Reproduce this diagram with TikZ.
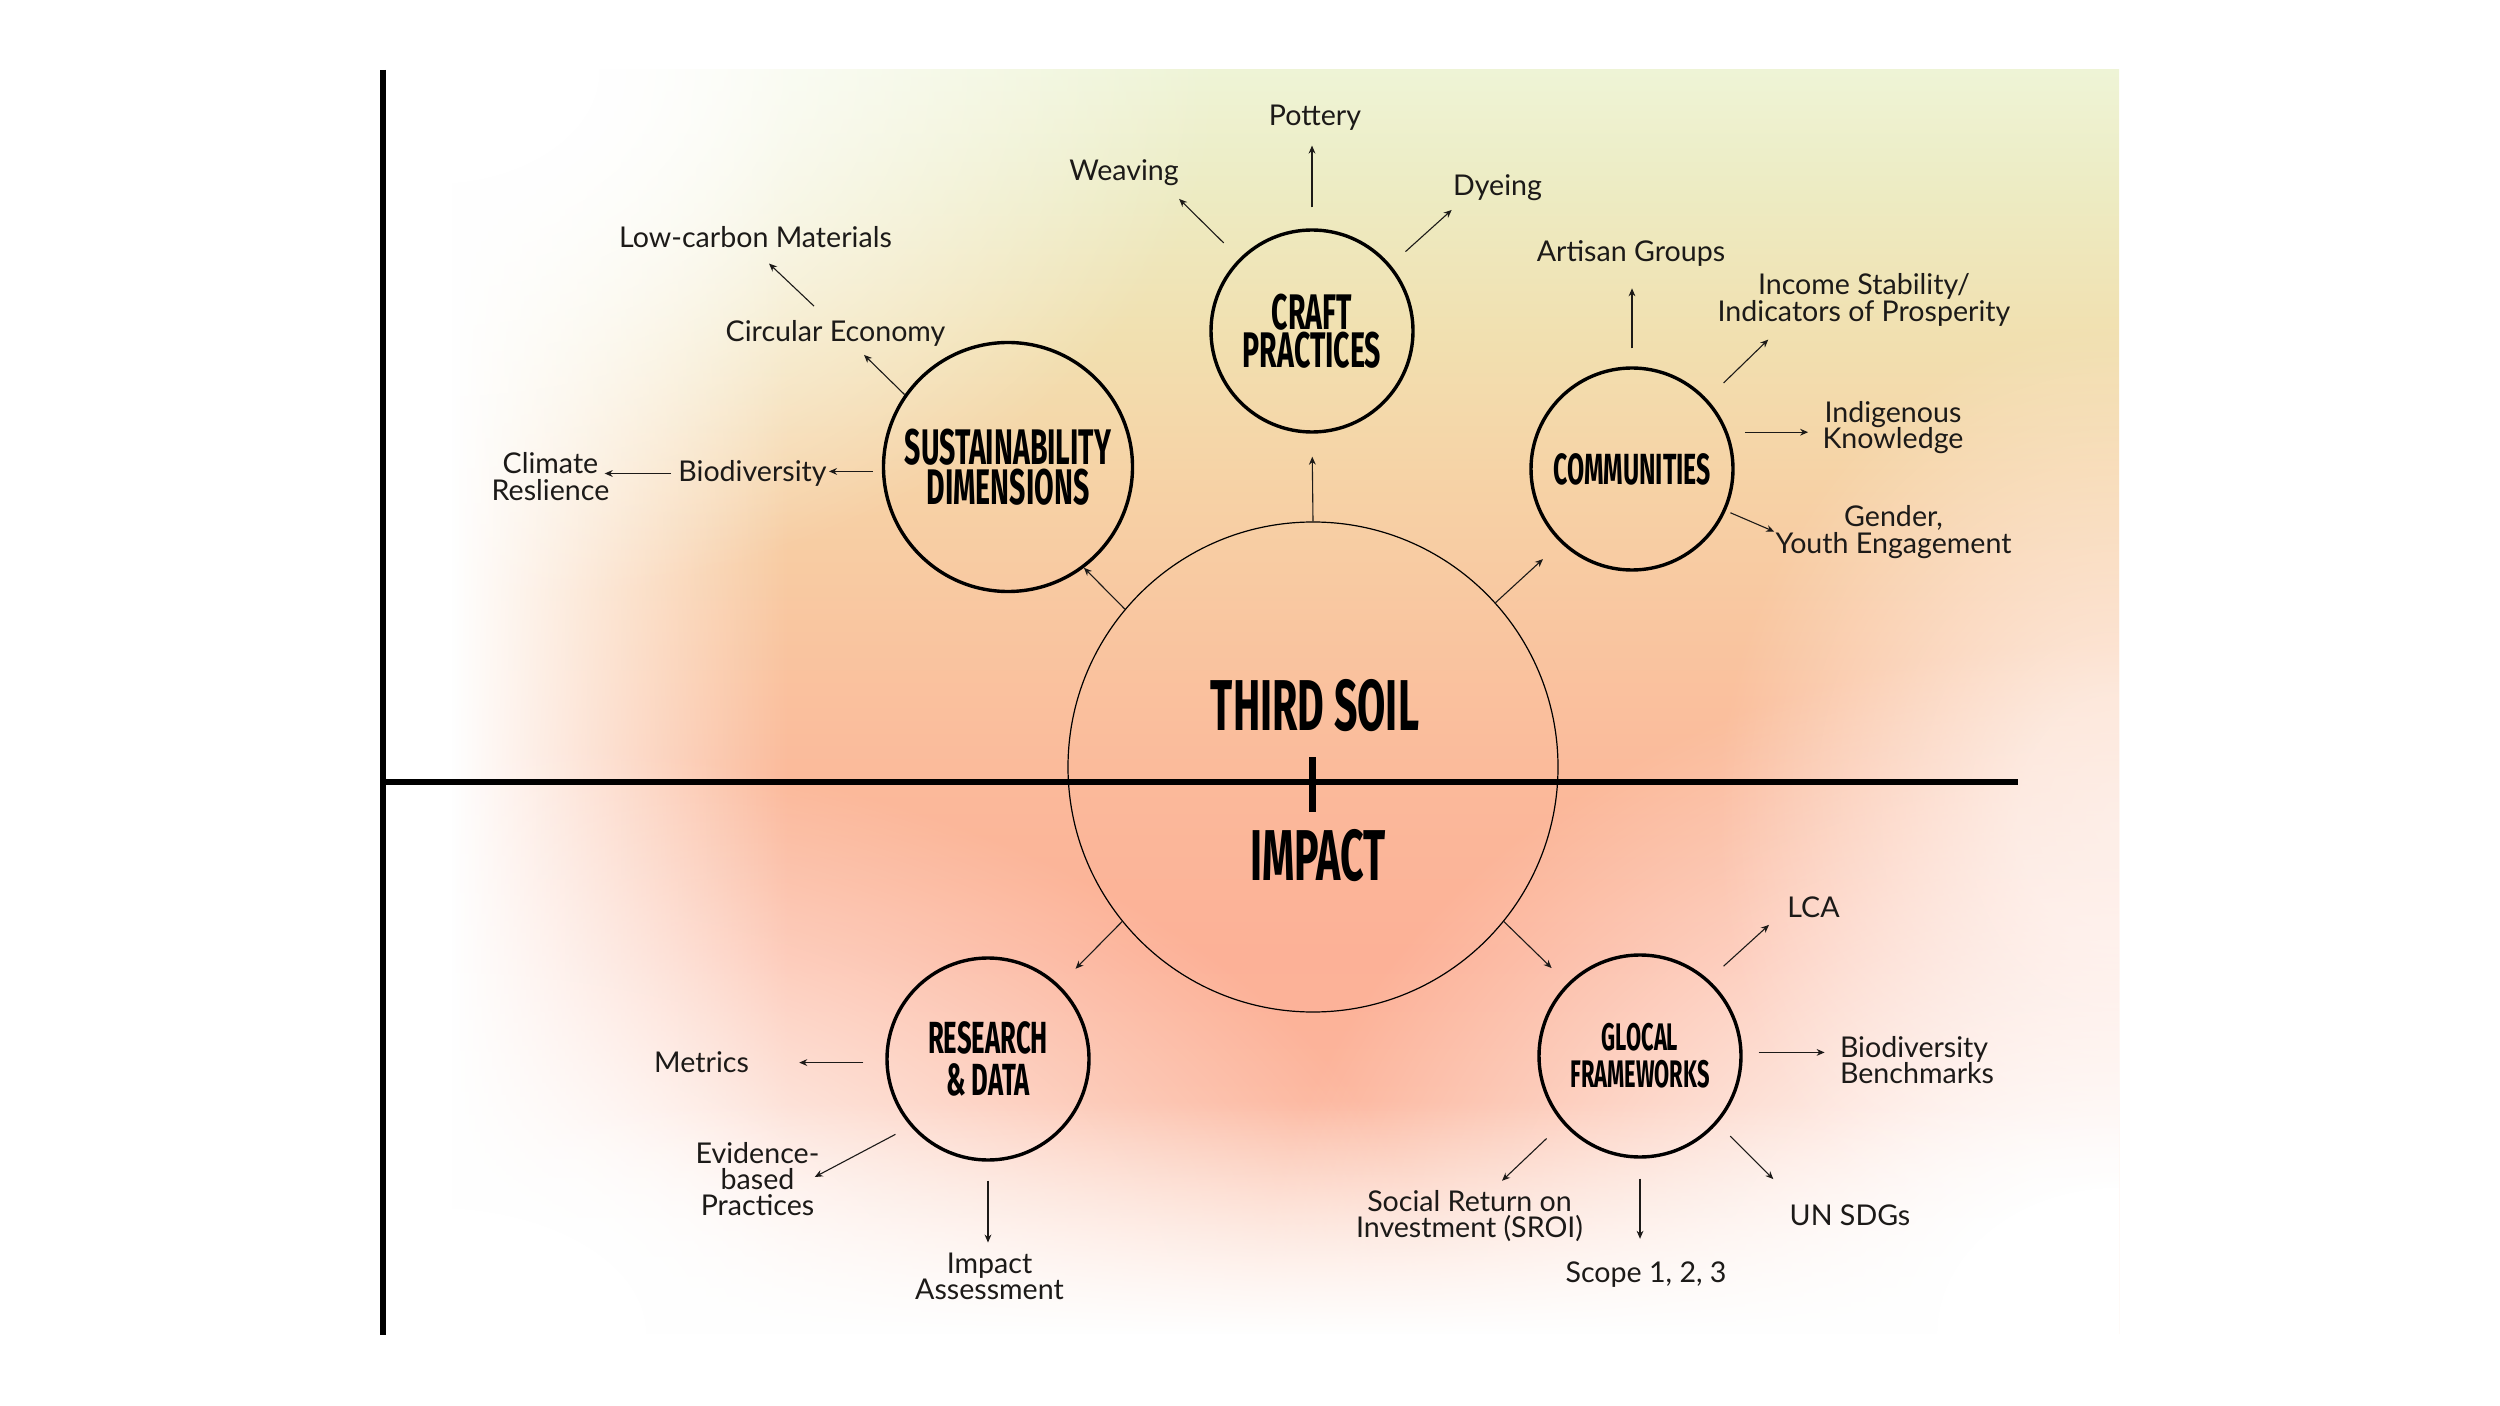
\documentclass[tikz,border=0pt]{standalone}
\usepackage{fontspec}
\setmainfont{Lato}
\newfontfamily\titlefont[FakeStretch=0.57]{Fira Sans}
\usetikzlibrary{calc,arrows.meta,fadings}

\definecolor{bg0}{HTML}{FCCDB8}
\definecolor{bg1}{HTML}{FCB59C}
\definecolor{bg2}{HTML}{FCB197}
\definecolor{bg3}{HTML}{FBB89A}
\definecolor{bg4}{HTML}{F9C6A0}
\definecolor{bg5}{HTML}{F6D3A6}
\definecolor{bg6}{HTML}{F1E0B0}
\definecolor{bg7}{HTML}{EDEBC2}
\definecolor{bg8}{HTML}{EEF4D6}
\definecolor{ink}{HTML}{1C1A18}

% shadings: only the 25bp..75bp band is mapped onto a path
\pgfdeclareverticalshading{bgshade}{100bp}{color(0bp)=(bg0); color(25bp)=(bg0); color(34bp)=(bg1); color(40bp)=(bg2); color(46bp)=(bg3); color(53bp)=(bg4); color(59bp)=(bg5); color(64.5bp)=(bg6); color(70bp)=(bg7); color(75bp)=(bg8); color(100bp)=(bg8)}
\pgfdeclareradialshading{blobsh}{\pgfpointorigin}{color(0bp)=(white); color(5bp)=(white); color(24bp)=(black); color(50bp)=(black)}
\pgfdeclareradialshading{softsh}{\pgfpointorigin}{color(0bp)=(black!35); color(6bp)=(black!40); color(24bp)=(black); color(50bp)=(black)}
\pgfdeclarehorizontalshading{leftsh}{100bp}{color(0bp)=(white); color(27bp)=(white); color(52bp)=(black); color(100bp)=(black)}
\pgfdeclareverticalshading{botsh}{100bp}{color(0bp)=(white); color(27bp)=(white); color(75bp)=(black); color(100bp)=(black)}
\tikzfading[name=blob, shading=blobsh]
\tikzfading[name=softblob, shading=softsh]
\tikzfading[name=leftfade, shading=leftsh]
\tikzfading[name=botfade, shading=botsh]

\begin{document}
\begin{tikzpicture}[x=0.5pt,y=-0.5pt,
  hub/.style={circle,draw=black,line width=1.7pt,inner sep=0pt,align=center,text=black},
  lbl/.style={inner sep=0pt,align=center,text=ink,font=\fontsize{14.3pt}{13.2pt}\selectfont},
  arr/.style={-{Stealth[length=4pt,width=3.4pt]},line width=0.55pt,draw=ink},
  axisline/.style={line width=3pt,black}]

\useasboundingbox (0,0) rectangle (2500,1406);

% background
\begin{scope}
  \clip (433,70) rectangle (2119,1333);
  \shade[shading=bgshade] (433,70) rectangle (2119,1333);
  \fill[white, path fading=leftfade] (425,60) rectangle (1100,1345);
  \fill[white, path fading=blob] (433,70) ellipse [x radius=820, y radius=560];
  \fill[white, path fading=blob] (433,1333) ellipse [x radius=1050, y radius=620];
  \fill[white, path fading=blob] (2119,1333) ellipse [x radius=900, y radius=720];
  \fill[white, path fading=softblob] (2119,820) ellipse [x radius=420, y radius=520];
  \fill[white, path fading=botfade] (425,1100) rectangle (2130,1345);
\end{scope}

% axes
\draw[axisline] (383,70) -- (383,1335);
\draw[axisline] (380,782) -- (2018,782);
\draw[line width=3.5pt] (1312,757) -- (1312,812);

% hubs
\node[hub,line width=0.6pt,minimum size=245pt] (big) at (1313,767) {};
\node[font=\titlefont\bfseries\fontsize{36pt}{36pt}\selectfont] (thirdsoil) at (1315,706) {THIRD SOIL};
\node[font=\titlefont\bfseries\fontsize{36pt}{36pt}\selectfont] (impacttxt) at (1318,856) {IMPACT};

\node[hub,minimum size=101pt,font=\titlefont\bfseries\fontsize{25pt}{19pt}\selectfont] (craft) at (1312,331) {CRAFT\\PRACTICES};
\node[hub,minimum size=124.5pt,font=\titlefont\bfseries\fontsize{25pt}{20pt}\selectfont] (sust) at (1008,467) {SUSTAINABILITY\\DIMENSIONS};
\node[hub,minimum size=101pt,font=\titlefont\bfseries\fontsize{21.8pt}{20pt}\selectfont] (comm) at (1632,469) {COMMUNITIES};
\node[hub,minimum size=101pt,font=\titlefont\bfseries\fontsize{22.5pt}{21pt}\selectfont] (res) at (988,1059) {RESEARCH\\\& DATA};
\node[hub,minimum size=101pt,font=\titlefont\bfseries\fontsize{19.2pt}{18.5pt}\selectfont] (glocal) at (1640,1056) {GLOCAL\\FRAMEWORKS};

% labels
\node[lbl] (pottery) at (1315,117.5) {Pottery};
\node[lbl] (weaving) at (1124,172.5) {Weaving};
\node[lbl] (dyeing) at (1497.5,187.5) {Dyeing};
\node[lbl] (artisan) at (1631,253) {Artisan Groups};
\node[lbl] (income) at (1864,300) {Income Stability/\\Indicators of Prosperity};
\node[lbl] (indig) at (1893,427.5) {Indigenous\\Knowledge};
\node[lbl] (gender) at (1893.5,532) {Gender,\\Youth Engagement};
\node[lbl] (lowcarbon) at (755.5,237.5) {Low-carbon Materials};
\node[lbl] (circular) at (835.5,333.5) {Circular Economy};
\node[lbl] (biodiv) at (752.5,473.5) {Biodiversity};
\node[lbl] (climate) at (550.5,476.5) {Climate\\Reslience};
\node[lbl] (metrics) at (701.5,1062) {Metrics};
\node[lbl] (evid) at (757.5,1179) {Evidence-\\based\\Practices};
\node[lbl] (impassess) at (989.5,1276.5) {Impact\\Assessment};
\node[lbl] (lca) at (1813.5,907) {LCA};
\node[lbl,align=left] (bench) at (1917,1060) {Biodiversity\\Benchmarks};
\node[lbl] (unsdg) at (1850,1215) {UN SDGs};
\node[lbl] (scope) at (1646,1275) {Scope 1, 2, 3};
\node[lbl] (sroi) at (1469.5,1216) {Social Return on\\Investment (SROI)};

% connectors from the centre
\draw[arr] (big.140) -- (sust.-53);
\draw[arr,shorten >=12pt] (big.42) -- (comm.226);
\draw[arr,shorten >=11.5pt] (big.219) -- (res.46);
\draw[arr,shorten >=11pt] (big.-39) -- (glocal.135);
\draw[arr,shorten >=11.5pt] (big.north) -- (craft.south);

% craft practices
\draw[arr,shorten <=10.5pt] (craft.north) -- ($(craft.north |- pottery.south)+(0,15)$);
\draw[arr,shorten <=11pt] (craft.135) -- ($(weaving.south east)+(0,13)$);
\draw[arr,shorten <=10pt] (craft.40) -- ($(dyeing.south west)+(-1,9)$);

% communities
\draw[arr,shorten <=9pt] (comm.north) -- ($(comm.north |- artisan.south)+(0,22)$);
\draw[arr,shorten <=11.5pt] (comm.43) -- ($(income.south west)+(51,13)$);
\draw[arr,shorten <=8.5pt,shorten >=7pt] (comm.21) -- (comm.21 -| indig.west);
\draw[arr,shorten <=2.5pt,shorten >=0.5pt] (comm.-24) -- (gender.west);

% sustainability
\draw[arr] (sust.145) -- ($(circular.south)+(28.5,8)$);
\draw[arr] ($(circular.north)+(-21.5,-14)$) -- ($(lowcarbon.south)+(13.5,15)$);
\draw[arr,shorten <=4.5pt,shorten >=1pt] (sust.182) -- (sust.182 -| biodiv.east);
\draw[arr,shorten <=3.5pt,shorten >=-2.5pt] (biodiv.west) -- (biodiv.west -| climate.east);

% research
\draw[arr,shorten <=11pt,shorten >=25pt] (res.182) -- (res.182 -| metrics.east);
\draw[arr,shorten <=8.5pt] (res.221) -- ($(evid.east)+(-5,-2)$);
\draw[arr,shorten <=9.5pt,shorten >=5pt] (res.south) -- (res.south |- impassess.north);

% glocal
\draw[arr,shorten <=10pt] (glocal.48) -- ($(lca.south west)+(-18,7)$);
\draw[arr,shorten <=8pt,shorten >=7.5pt] (glocal.2) -- (glocal.2 -| bench.west);
\draw[arr,shorten <=9pt] (glocal.-41) -- ($(unsdg.north west)+(-16,-25)$);
\draw[arr,shorten <=10pt,shorten >=11.5pt] (glocal.south) -- (glocal.south |- scope.north);
\draw[arr,shorten <=11pt] (glocal.221) -- ($(sroi.north)+(32.5,-9)$);
\end{tikzpicture}
\end{document}
